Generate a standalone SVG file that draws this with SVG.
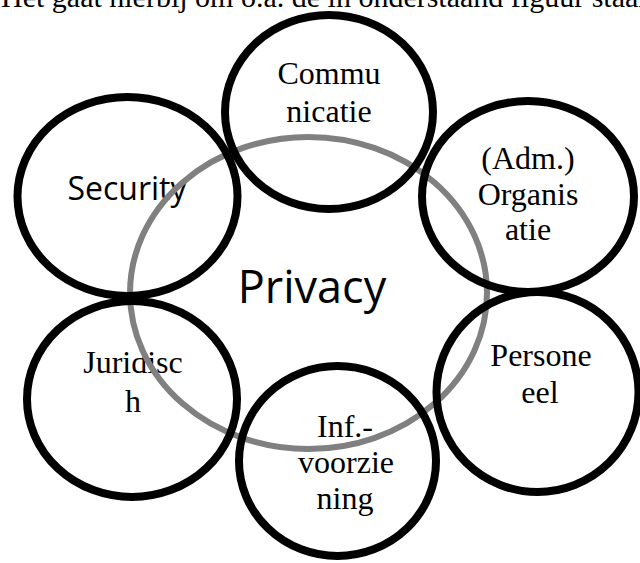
<svg xmlns="http://www.w3.org/2000/svg" width="640" height="563" viewBox="0 0 640 563">
<style>
.ring{fill:none;stroke:#000;stroke-width:8}
.halo{fill:none;stroke:#808080;stroke-width:6}
.serif{font-family:"Liberation Serif","Times New Roman",serif;font-size:32px;fill:#000;text-anchor:middle}
.sans{font-family:"Open Sans","Noto Sans",sans-serif;fill:#000;text-anchor:middle}
</style>
<rect width="640" height="563" fill="#fff"/>
<text x="1" y="7" font-family="Liberation Serif, Times New Roman, serif" font-size="30" fill="#000">Het gaat hierbij om o.a. de in onderstaand figuur staan</text>
<g id="labels">
<g id="privacy-label"><text class="sans" x="312" y="303" font-size="45">Privacy</text></g>
<g id="security-label"><text class="sans" x="127" y="200" font-size="32">Security</text></g>
<g id="communicatie-label"><text class="serif" x="329" y="84">Commu</text><text class="serif" x="329" y="122">nicatie</text></g>
<g id="organisatie-label"><text class="serif" x="528" y="169">(Adm.)</text><text class="serif" x="528" y="205">Organis</text><text class="serif" x="528" y="240">atie</text></g>
<g id="juridisch-label"><text class="serif" x="133" y="373">Juridisc</text><text class="serif" x="133" y="412">h</text></g>
<g id="inf-label"><text class="serif" x="345" y="437">Inf.-</text><text class="serif" x="346" y="473">voorzie</text><text class="serif" x="345" y="509">ning</text></g>
<g id="personeel-label"><text class="serif" x="541" y="366">Persone</text><text class="serif" x="540" y="403">eel</text></g>
</g>
<g id="privacy"><ellipse class="halo" cx="308.5" cy="293" rx="178.5" ry="156"/></g>
<g id="connectors"></g>
<g id="communicatie"><ellipse class="ring" cx="329" cy="112" rx="104" ry="97"/></g>
<g id="security"><ellipse class="ring" cx="127.5" cy="196.5" rx="110" ry="99.5"/></g>
<g id="organisatie"><ellipse class="ring" cx="528" cy="196.5" rx="106" ry="95.5"/></g>
<g id="juridisch"><ellipse class="ring" cx="132" cy="399" rx="105" ry="98"/></g>
<g id="infvoorziening"><ellipse class="ring" cx="337.5" cy="461" rx="98.5" ry="95"/></g>
<g id="personeel"><ellipse class="ring" cx="537.5" cy="392" rx="101" ry="100"/></g>
</svg>
